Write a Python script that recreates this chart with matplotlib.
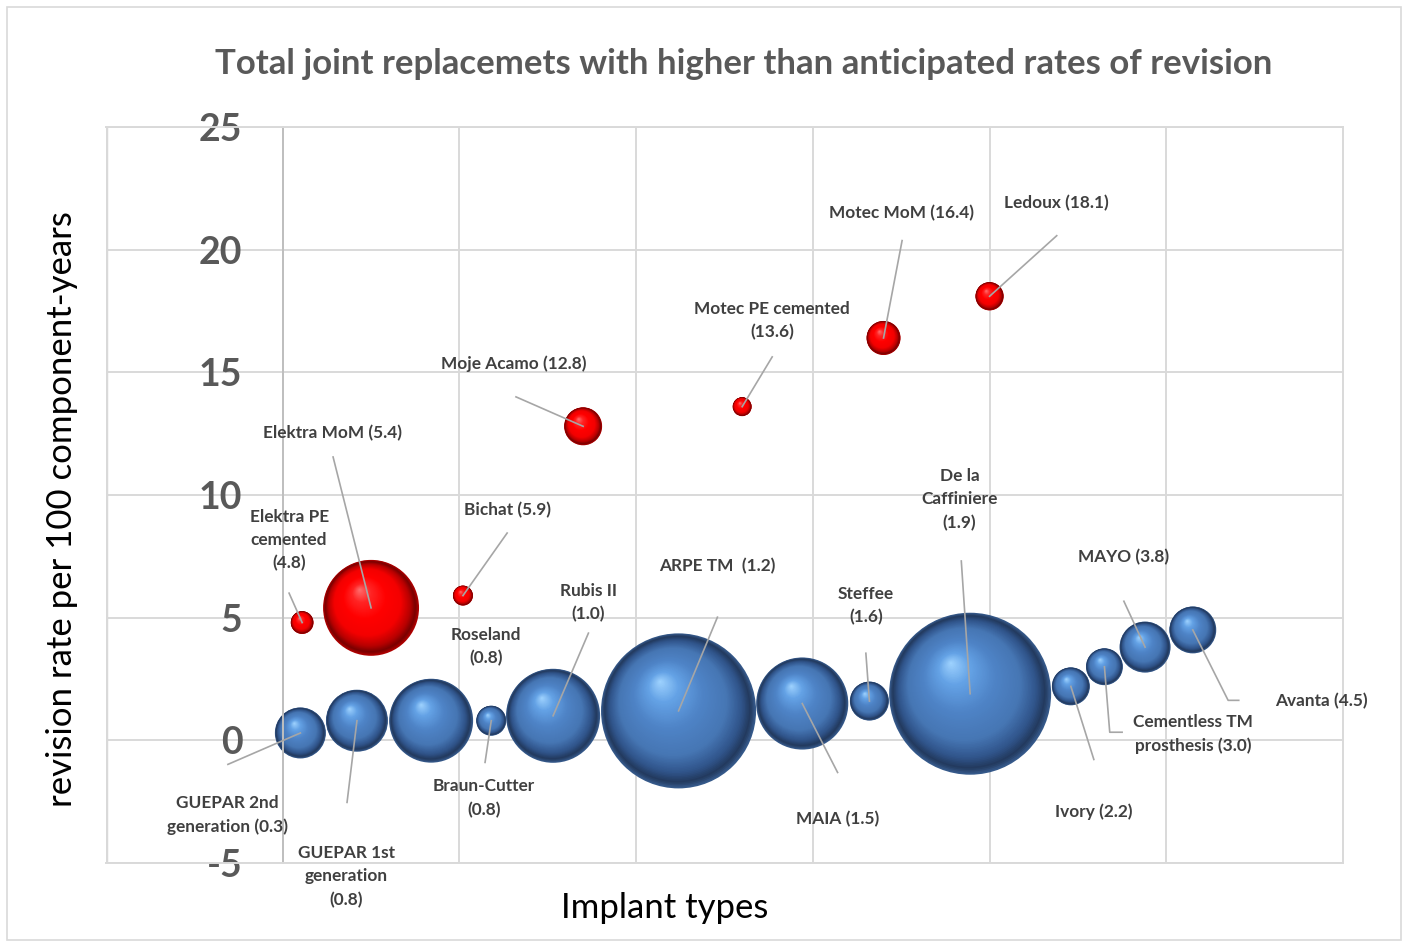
import matplotlib
matplotlib.use('Agg')
import matplotlib.pyplot as plt
import numpy as np
from matplotlib.colors import LinearSegmentedColormap
from matplotlib.patches import Rectangle

plt.rcParams['font.family'] = ['Lato', 'DejaVu Sans']

title = 'Total joint replacemets with higher than anticipated rates of revision'
y_label = 'revision rate per 100 component-years'
x_label = 'Implant types'
y_ticks = [-5, 0, 5, 10, 15, 20, 25]

# blue series: rate within expectation band (lower group)
blue_labels = ['GUEPAR 2nd\ngeneration (0.3)', 'GUEPAR 1st\ngeneration\n(0.8)', 'Roseland\n(0.8)',
               'Braun-Cutter\n(0.8)', 'Rubis II\n(1.0)', 'ARPE TM  (1.2)', 'MAIA (1.5)',
               'Steffee\n(1.6)', 'De la\nCaffiniere\n(1.9)', 'Ivory (2.2)',
               'Cementless TM\nprosthesis (3.0)', 'MAYO (3.8)', 'Avanta (4.5)']
blue_x = [1.10, 1.42, 1.84, 2.18, 2.53, 3.24, 3.94, 4.32, 4.89, 5.46, 5.65, 5.88, 6.15]
blue_rate = [0.3, 0.8, 0.8, 0.8, 1.0, 1.2, 1.5, 1.6, 1.9, 2.2, 3.0, 3.8, 4.5]
blue_size = [6.5, 9.6, 17.6, 2.25, 22.1, 60.1, 21.2, 3.8, 65.6, 3.6, 3.4, 6.5, 5.5]

# red series
red_labels = ['Elektra PE\ncemented\n(4.8)', 'Elektra MoM (5.4)', 'Bichat (5.9)', 'Moje Acamo (12.8)',
              'Motec PE cemented\n(13.6)', 'Motec MoM (16.4)', 'Ledoux (18.1)']
red_x = [1.11, 1.50, 2.02, 2.70, 3.60, 4.40, 5.00]
red_rate = [4.8, 5.4, 5.9, 12.8, 13.6, 16.4, 18.1]
red_size = [1.3, 23.0, 1.0, 3.6, 0.9, 2.9, 2.0]

# label layout: text centre, then leader points from the label toward the bubble
blue_layout = [((0.685, -3.06), [(0.69, -0.98)]),
               ((1.36, -5.55), [(1.364, -2.53)]),
               ((2.15, 3.82), []),
               ((2.14, -2.35), [(2.145, -0.9)]),
               ((2.73, 5.61), [(2.73, 4.37)]),
               ((3.46, 7.10), [(3.46, 5.02)]),
               ((4.14, -3.22), [(4.14, -1.31)]),
               ((4.30, 5.49), [(4.30, 3.55)]),
               ((4.83, 9.82), [(4.84, 7.31)]),
               ((5.59, -2.90), [(5.59, -0.78)]),
               ((6.15, 0.245), [(5.75, 0.33), (5.68, 0.33)]),
               ((5.76, 7.47), [(5.76, 5.67)]),
               ((6.88, 1.59), [(6.41, 1.63), (6.35, 1.63)])]
red_layout = [((1.036, 8.16), [(1.036, 6.0)]),
              ((1.28, 12.53), [(1.285, 11.55)]),
              ((2.27, 9.39), [(2.27, 8.45)]),
              ((2.31, 15.35), [(2.32, 14.0)]),
              ((3.77, 17.12), [(3.77, 15.63)]),
              ((4.50, 21.47), [(4.505, 20.37)]),
              ((5.38, 21.88), [(5.38, 20.57)])]

blue_cmap = LinearSegmentedColormap.from_list(
    'bsphere', [(0, '#35598a'), (0.05, '#22395c'), (0.14, '#30548a'), (0.3, '#4676b4'),
                (0.55, '#4e83c6'), (0.8, '#64a2e6'), (1, '#a0d4ff')])
red_cmap = LinearSegmentedColormap.from_list(
    'rsphere', [(0, '#b00000'), (0.05, '#780000'), (0.14, '#b80000'), (0.3, '#f40000'),
                (0.55, '#ff0000'), (0.8, '#ff2424'), (1, '#ff7070')])

fig = plt.figure(figsize=(14.07, 9.44), dpi=100)
ax = fig.add_axes([106 / 1407, 81 / 944, 1237 / 1407, 736 / 944])
ax.set_xlim(0, 7)
ax.set_ylim(-5, 25)
ax.autoscale(False)

for side in ['top', 'right', 'bottom']:
    ax.spines[side].set_color('#d9d9d9')
    ax.spines[side].set_linewidth(1.4)
ax.spines['left'].set_position(('data', 1))
ax.spines['left'].set_color('#bfbfbf')
ax.spines['left'].set_linewidth(1.4)
ax.axvline(0, color='#d9d9d9', lw=2.5, zorder=0)

ax.set_xticks(range(1, 7))
ax.set_xticklabels([])
ax.set_yticks(y_ticks)
ax.set_yticklabels([str(v) for v in y_ticks])
ax.grid(True, color='#d9d9d9', lw=1.4, zorder=0)
ax.set_axisbelow(True)
ax.tick_params(axis='x', length=0)
ax.tick_params(axis='y', length=0, pad=29, labelsize=27, labelcolor='#595959')
plt.setp(ax.get_yticklabels(), fontweight='bold')


def draw_sphere(x, y, size, cmap):
    r = 10 * np.sqrt(size)  # radius in pixels
    cx, cy = ax.transData.transform((x, y))
    t = np.linspace(0, 1, 70, endpoint=False)
    rad = r * (1 - t)
    px = cx - 0.24 * r * t
    py = cy + 0.38 * r * t
    pts = ax.transData.inverted().transform(np.column_stack([px, py]))
    s = (2 * rad * 72 / fig.dpi) ** 2
    ax.scatter(pts[:, 0], pts[:, 1], s=s, c=cmap(t), linewidths=0, zorder=2)


def draw_labels(xs, ys, labels, layout):
    for x, y, text, (pos, leader) in zip(xs, ys, labels, layout):
        if leader:
            path = leader + [(x, y)]
            ax.plot([p[0] for p in path], [p[1] for p in path], color='#a6a6a6', lw=1.2, zorder=5)
        ax.text(pos[0], pos[1], text, ha='center', va='center', fontsize=12.4, fontweight='bold',
                color='#404040', linespacing=1.55, zorder=6)


for x, y, s in zip(blue_x, blue_rate, blue_size):
    draw_sphere(x, y, s, blue_cmap)
for x, y, s in zip(red_x, red_rate, red_size):
    draw_sphere(x, y, s, red_cmap)

draw_labels(blue_x, blue_rate, blue_labels, blue_layout)
draw_labels(red_x, red_rate, red_labels, red_layout)

fig.text(744 / 1407, 1 - 64 / 944, title, ha='center', va='center', fontsize=25,
         fontweight='bold', color='#595959')
fig.text(62 / 1407, 1 - 509 / 944, y_label, ha='center', va='center', rotation=90,
         fontsize=25, color='#000000')
fig.text(665 / 1407, 1 - 908 / 944, x_label, ha='center', va='center', fontsize=25,
         color='#000000')

fig.patches.append(Rectangle((7 / 1407, 4 / 944), 1394 / 1407, 933 / 944, transform=fig.transFigure,
                             fill=False, edgecolor='#d9d9d9', lw=1.2))

fig.savefig('out.png', dpi=100)
